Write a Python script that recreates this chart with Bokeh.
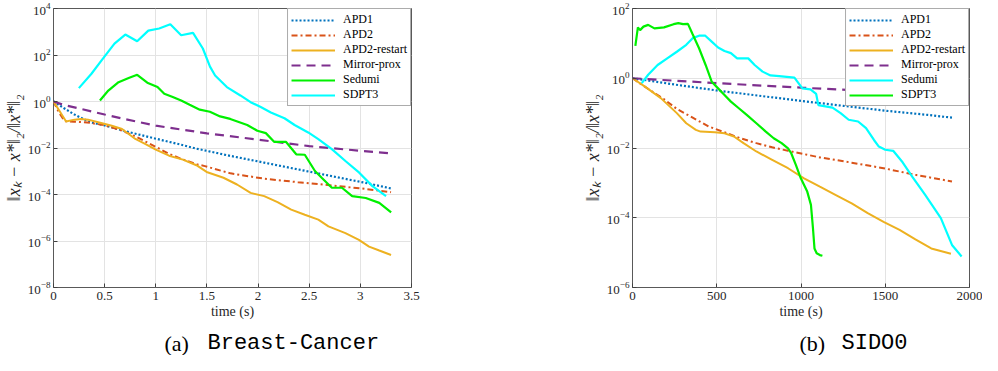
import numpy as np
from bokeh.plotting import figure
from bokeh.models import FixedTicker, Label, Legend, LegendItem, Range1d, NumeralTickFormatter
from bokeh.layouts import row, column
from bokeh.embed import file_html
from bokeh.resources import INLINE

SERIES = ["APD1", "APD2", "APD2-restart", "Mirror-prox", "Sedumi", "SDPT3"]
CAPTIONS = [("(a)", "Breast-Cancer"), ("(b)", "SIDO0")]

# ---------------- (a) Breast-Cancer ----------------
BC_X_TICKS = [0, 0.5, 1, 1.5, 2, 2.5, 3, 3.5]
BC_Y_TICKS = [1e-8, 1e-6, 1e-4, 1e-2, 1e0, 1e2, 1e4]

bc_apd1_t = [0, 0.1, 0.2, 0.35, 0.5, 0.75, 1.0, 1.25, 1.4, 1.73, 2.06, 2.39, 2.72, 3.05, 3.3]
bc_apd1_log10 = [0, -0.28, -0.55, -0.88, -1.03, -1.33, -1.6, -1.86, -2.03, -2.34, -2.63, -2.92, -3.21, -3.50, -3.74]

bc_apd2_t = [0, 0.05, 0.11, 0.2, 0.33, 0.5, 0.66, 0.8, 1.0, 1.13, 1.25, 1.4, 1.48, 1.73, 2.06, 2.39, 2.72, 3.05, 3.3]
bc_apd2_log10 = [0, -0.45, -0.85, -0.87, -0.9, -1.02, -1.24, -1.5, -1.95, -2.25, -2.47, -2.70, -2.78, -3.09, -3.32, -3.47, -3.61, -3.76, -3.90]

bc_restart_t = [0, 0.056, 0.123, 0.205, 0.272, 0.338, 0.437, 0.57, 0.67, 0.8, 0.9, 1.0, 1.13, 1.265, 1.397,
                1.497, 1.662, 1.794, 1.927, 2.06, 2.19, 2.324, 2.457, 2.589, 2.688, 2.854, 2.986, 3.085, 3.185, 3.30]
bc_restart_log10 = [0, -0.39, -0.86, -0.78, -0.75, -0.78, -0.89, -1.04, -1.18, -1.61, -1.83, -2.07, -2.33, -2.5, -2.74,
                    -3.03, -3.28, -3.57, -3.93, -4.07, -4.33, -4.65, -4.87, -5.08, -5.37, -5.66, -5.95, -6.24, -6.41, -6.60]

bc_mirror_t = [0, 0.1, 0.25, 0.5, 0.69, 1.0, 1.5, 2.0, 2.5, 3.0, 3.3]
bc_mirror_log10 = [0, -0.15, -0.3, -0.56, -0.75, -1.04, -1.37, -1.64, -1.92, -2.12, -2.23]

bc_sedumi_t = [0.454, 0.536, 0.636, 0.735, 0.818, 0.917, 1.017, 1.083, 1.166, 1.248, 1.331, 1.43, 1.529, 1.629,
               1.728, 1.894, 1.993, 2.076, 2.159, 2.274, 2.373, 2.457, 2.556, 2.622, 2.721, 2.82, 2.92, 3.053, 3.185, 3.301]
bc_sedumi_log10 = [0.04, 0.47, 0.83, 1.01, 1.15, 0.81, 0.62, 0.33, 0.19, 0.04, -0.14, -0.35, -0.44, -0.64,
                   -0.75, -1.01, -1.26, -1.36, -1.74, -1.74, -2.27, -2.29, -2.99, -3.28, -3.71, -3.71, -4.07, -4.15, -4.36, -4.77]

bc_sdpt3_t = [0.248, 0.371, 0.47, 0.596, 0.702, 0.818, 0.927, 1.033, 1.142, 1.248, 1.364, 1.46, 1.53, 1.58, 1.695,
              1.827, 1.927, 2.026, 2.125, 2.258, 2.357, 2.49, 2.589, 2.721, 2.854, 2.989, 3.118, 3.251]
bc_sdpt3_log10 = [0.576, 1.194, 1.77, 2.49, 2.88, 2.59, 3.05, 3.14, 3.32, 2.85, 2.95, 2.28, 1.5, 1.12, 0.62,
                  0.26, -0.03, -0.24, -0.47, -0.72, -1.01, -1.33, -1.62, -2.05, -2.56, -3.06, -3.64, -4.07]

# ---------------- (b) SIDO0 ----------------
SI_X_TICKS = [0, 500, 1000, 1500, 2000]
SI_Y_TICKS = [1e-6, 1e-4, 1e-2, 1e0, 1e2]

si_apd1_t = [0, 100, 250, 500, 750, 1000, 1250, 1500, 1750, 1896]
si_apd1_log10 = [0, -0.07, -0.18, -0.35, -0.50, -0.65, -0.79, -0.93, -1.05, -1.13]

si_apd2_t = [0, 100, 187, 263, 357, 451, 546, 640, 735, 829, 923, 1112, 1301, 1490, 1679, 1896]
si_apd2_log10 = [0, -0.33, -0.6, -0.88, -1.13, -1.38, -1.55, -1.72, -1.86, -1.98, -2.08, -2.27, -2.42, -2.58, -2.77, -2.96]

si_restart_t = [0, 74, 168, 263, 319, 376, 404, 489, 546, 602, 659, 735, 829, 923, 1018, 1112, 1207, 1301,
                1396, 1490, 1585, 1679, 1773, 1890]
si_restart_log10 = [0, -0.24, -0.57, -1.0, -1.29, -1.48, -1.53, -1.55, -1.58, -1.67, -1.86, -2.10, -2.34, -2.58,
                    -2.87, -3.11, -3.35, -3.59, -3.87, -4.12, -4.35, -4.62, -4.88, -5.03]

si_mirror_t = [0, 250, 500, 1000, 1500, 2000]
si_mirror_log10 = [0, -0.07, -0.14, -0.27, -0.39, -0.52]

si_sedumi_t = [55, 93, 149, 206, 263, 319, 357, 395, 432, 470, 508, 546, 584, 621, 687, 725, 772, 819, 870, 961,
               1008, 1056, 1090, 1103, 1187, 1235, 1283, 1339, 1386, 1433, 1462, 1500, 1547, 1603, 1660, 1736,
               1830, 1896, 1953]
si_sedumi_log10 = [-0.14, 0.10, 0.38, 0.57, 0.76, 0.96, 1.15, 1.22, 1.22, 1.05, 0.88, 0.78, 0.72, 0.57, 0.57, 0.38,
                   0.19, 0.08, 0.06, 0.02, -0.29, -0.32, -0.45, -0.77, -0.84, -1.00, -1.19, -1.24, -1.43, -1.77,
                   -1.96, -2.05, -2.08, -2.41, -2.82, -3.34, -4.01, -4.78, -5.11]

si_sdpt3_t = [17, 32, 45, 65, 93, 130, 187, 244, 272, 300, 329, 357, 395, 434, 470, 508, 546, 584, 631, 678,
              735, 791, 838, 885, 923, 942, 970, 999, 1037, 1059, 1071, 1080, 1093, 1112, 1127]
si_sdpt3_log10 = [0.93, 1.46, 1.38, 1.48, 1.53, 1.43, 1.46, 1.55, 1.58, 1.55, 1.56, 1.26, 0.86, 0.38, -0.10,
                  -0.29, -0.48, -0.67, -0.86, -1.05, -1.29, -1.53, -1.72, -1.86, -2.01, -2.15, -2.49, -2.87,
                  -3.25, -3.63, -4.30, -4.88, -5.02, -5.07, -5.09]

# ---------------- styling ----------------
SERIF = "Liberation Serif"
MONO = "Liberation Mono"
STYLE = {
    "APD1": dict(line_color="#0072BD", line_dash="2 2", line_width=2.2),
    "APD2": dict(line_color="#D95319", line_dash="6 3 2 3", line_width=2),
    "APD2-restart": dict(line_color="#EDB120", line_dash="solid", line_width=2),
    "Mirror-prox": dict(line_color="#7E2F8E", line_dash="9 6", line_width=2.2),
    "green": dict(line_color="#00F000", line_dash="solid", line_width=2.2),
    "cyan": dict(line_color="#00FFFF", line_dash="solid", line_width=2.2),
}
FRAME = "#595959"
PLOT_H = 326
TOP = 8


def make_panel(width, b_left, b_right, frame_h, x_end, x_ticks, y_lo, y_hi, y_ticks, curves):
    p = figure(width=width, height=PLOT_H, x_range=Range1d(0, x_end), y_range=Range1d(y_lo, y_hi),
               y_axis_type="log", output_backend="svg", toolbar_location=None,
               min_border_left=b_left, min_border_right=b_right, min_border_top=TOP,
               min_border_bottom=PLOT_H - TOP - frame_h)
    p.outline_line_color = FRAME
    p.outline_line_width = 1
    p.xaxis.ticker = FixedTicker(ticks=x_ticks)
    p.xaxis.formatter = NumeralTickFormatter(format="0.[0]")
    p.yaxis.ticker = FixedTicker(ticks=y_ticks)
    p.grid.grid_line_color = "#e3e3e3"
    p.grid.grid_line_width = 1
    for ax in (p.xaxis, p.yaxis):
        ax.axis_line_color = None
        ax.major_tick_in = 4
        ax.major_tick_out = 0
        ax.major_tick_line_color = "#404040"
        ax.minor_tick_line_color = None
        ax.major_label_text_font = SERIF
        ax.major_label_text_font_size = "13px"
        ax.major_label_text_color = "#262626"
        ax.axis_label_text_font = SERIF
        ax.axis_label_text_color = "#262626"
    p.xaxis.major_label_standoff = 4
    p.xaxis.axis_label = "time (s)"
    p.xaxis.axis_label_text_font_size = "14px"
    p.xaxis.axis_label_text_font_style = "normal"
    p.xaxis.axis_label_standoff = 1
    p.yaxis.major_label_standoff = 3
    p.yaxis.axis_label = "\u2016x\u2096 \u2212 x*\u2016\u2082/\u2016x*\u2016\u2082"
    p.yaxis.axis_label_text_font_size = "18px"
    p.yaxis.axis_label_text_font_style = "italic"
    p.yaxis.axis_label_standoff = 1

    items = []
    for name, t, lg, sty in curves:
        r = p.line(np.array(t, dtype=float), 10.0 ** np.array(lg, dtype=float), **STYLE[sty])
        items.append(LegendItem(label=name, renderers=[r]))
    legend = Legend(items=items, location="top_right", margin=0, padding=3, spacing=0,
                    glyph_width=44, glyph_height=12, label_height=12, label_standoff=8,
                    label_text_font=SERIF, label_text_font_size="12px", label_text_color="#000000",
                    label_text_line_height=1.0,
                    border_line_color=FRAME, border_line_width=1, background_fill_color="white",
                    background_fill_alpha=1)
    p.add_layout(legend)
    return p


p1 = make_panel(500, 52, 89, 279, 3.5, BC_X_TICKS, 1e-8, 1e4, BC_Y_TICKS, [
    ("APD1", bc_apd1_t, bc_apd1_log10, "APD1"),
    ("APD2", bc_apd2_t, bc_apd2_log10, "APD2"),
    ("APD2-restart", bc_restart_t, bc_restart_log10, "APD2-restart"),
    ("Mirror-prox", bc_mirror_t, bc_mirror_log10, "Mirror-prox"),
    ("Sedumi", bc_sedumi_t, bc_sedumi_log10, "green"),
    ("SDPT3", bc_sdpt3_t, bc_sdpt3_log10, "cyan"),
])
p2 = make_panel(482, 132, 13, 281, 2000, SI_X_TICKS, 1e-6, 1e2, SI_Y_TICKS, [
    ("APD1", si_apd1_t, si_apd1_log10, "APD1"),
    ("APD2", si_apd2_t, si_apd2_log10, "APD2"),
    ("APD2-restart", si_restart_t, si_restart_log10, "APD2-restart"),
    ("Mirror-prox", si_mirror_t, si_mirror_log10, "Mirror-prox"),
    ("Sedumi", si_sedumi_t, si_sedumi_log10, "cyan"),
    ("SDPT3", si_sdpt3_t, si_sdpt3_log10, "green"),
])

# caption strip below the two panels (coordinates are pixels of this strip)
CAP_W, CAP_H = 982, 29
cap = figure(width=CAP_W, height=CAP_H, x_range=Range1d(0, CAP_W), y_range=Range1d(0, CAP_H),
             output_backend="svg", toolbar_location=None, min_border=0,
             x_axis_location=None, y_axis_location=None)
cap.grid.visible = False
cap.outline_line_color = None
for (tag, word), tag_x, word_x in zip(CAPTIONS, (164, 799), (207, 841)):
    cap.add_layout(Label(x=tag_x, y=12, text=tag, text_font=SERIF, text_font_size="22px",
                         text_line_height=1.05, text_baseline="middle", text_color="black"))
    cap.add_layout(Label(x=word_x, y=12, text=word, text_font=MONO, text_font_size="22px",
                         text_line_height=1.05, text_baseline="middle", text_color="black"))

layout = column(row(p1, p2), cap)
open("out.html", "w").write(file_html(layout, INLINE))
